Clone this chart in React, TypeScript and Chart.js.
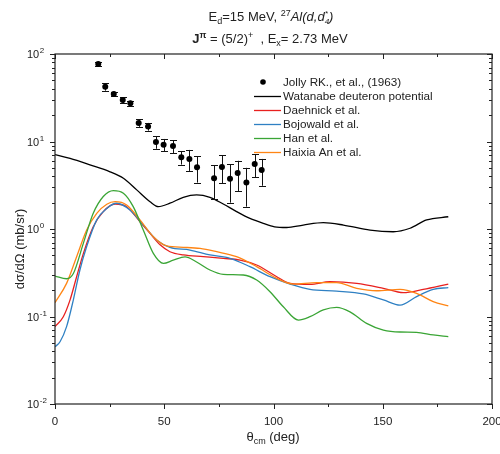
import React, { useEffect, useRef } from "react";
import { Chart, registerables } from "chart.js";
Chart.register(...registerables);

const FONT = "'Liberation Sans', Arial, Helvetica, sans-serif";

// Experimental data (Jolly RK. et al., 1963)
const expAngle = [19.8, 23.0, 26.9, 31.0, 34.5, 38.3, 42.6, 46.2, 49.7, 54.0, 57.8, 61.5, 65.0, 72.8, 76.4, 80.1, 83.6, 87.6, 91.4, 94.6];
const expValue = [76.9, 42.3, 34.9, 29.8, 27.3, 16.3, 14.8, 9.86, 9.19, 8.89, 6.6, 6.31, 5.07, 3.79, 5.12, 3.76, 4.37, 3.4, 5.53, 4.72];
const expError = [4.9, 4.2, 2.2, 2.3, 1.9, 1.6, 1.5, 1.6, 1.5, 1.5, 1.15, 1.7, 1.68, 1.6, 1.8, 1.76, 1.65, 1.6, 1.6, 1.6];

// Watanabe deuteron potential
const watanabeAngle = [0, 6.9, 16, 25.2, 31.3, 37.4, 43.5, 47.3, 52.6, 58.7, 64.8, 70.9, 77, 83.1, 89.2, 95.3, 100.5, 106, 113.6, 122.8, 132, 144.2, 154.8, 162.5, 170.1, 180];
const watanabeValue = [7.1, 6.4, 5.4, 4.5, 3.8, 2.8, 2.05, 1.8, 1.97, 2.3, 2.45, 2.3, 1.93, 1.58, 1.32, 1.16, 1.06, 1.04, 1.11, 1.18, 1.11, 0.97, 0.93, 1.02, 1.27, 1.38];

// Daehnick et al.
const daehnickAngle = [0, 3.8, 6.9, 9.9, 13, 17.5, 22.1, 27.5, 32.8, 38.9, 43.5, 48.1, 52.6, 58.7, 67.9, 77, 84.7, 92.3, 101.5, 107.6, 116.7, 125.9, 138.1, 150.3, 159.4, 168.5, 180];
const daehnickValue = [0.0766, 0.0995, 0.155, 0.285, 0.527, 1.06, 1.58, 1.93, 1.8, 1.21, 0.89, 0.66, 0.55, 0.505, 0.483, 0.462, 0.442, 0.388, 0.285, 0.239, 0.233, 0.25, 0.239, 0.21, 0.187, 0.204, 0.235];

// Bojowald et al.
const bojowaldAngle = [0, 2.3, 5.3, 8.4, 11.4, 14.5, 19.1, 23.7, 28.2, 34.3, 40.4, 46.5, 52.6, 61.8, 70.9, 80.1, 89.2, 98.4, 107.6, 116.7, 128.9, 141.1, 150.3, 157.9, 165.5, 173.1, 180];
const bojowaldValue = [0.045, 0.0515, 0.0766, 0.155, 0.34, 0.63, 1.27, 1.72, 1.97, 1.65, 1.11, 0.75, 0.617, 0.575, 0.505, 0.462, 0.371, 0.285, 0.235, 0.204, 0.195, 0.181, 0.155, 0.135, 0.169, 0.204, 0.214];

// Han et al.
const hanAngle = [0, 5.3, 8.4, 13, 17.5, 22.1, 26.7, 31.3, 35.8, 40.4, 45, 49.6, 54.1, 59.5, 64.8, 70.9, 77, 86.2, 92.3, 98.4, 104.5, 111.4, 116.7, 122.8, 128.9, 135, 142.6, 150.3, 157.9, 165.5, 173.1, 180];
const hanValue = [0.29, 0.27, 0.31, 0.69, 1.51, 2.35, 2.74, 2.56, 1.8, 0.975, 0.527, 0.405, 0.44, 0.48, 0.42, 0.34, 0.303, 0.298, 0.261, 0.192, 0.129, 0.091, 0.0995, 0.119, 0.127, 0.113, 0.0836, 0.07, 0.0665, 0.066, 0.0615, 0.059];

// Haixia An et al.
const haixiaAngle = [0, 5.3, 9.9, 14.5, 19.1, 23.7, 27.5, 32.8, 38.9, 45, 51.1, 58.7, 66.4, 74, 83.1, 92.3, 101.5, 109.1, 119.8, 128.9, 138.1, 147.2, 157.9, 165.5, 173.1, 180];
const haixiaValue = [0.144, 0.239, 0.483, 0.975, 1.51, 1.92, 2.05, 1.88, 1.27, 0.817, 0.64, 0.617, 0.6, 0.55, 0.483, 0.371, 0.273, 0.235, 0.244, 0.244, 0.21, 0.197, 0.204, 0.184, 0.148, 0.132];

const seriesNames = ["Jolly RK., et al., (1963)", "Watanabe deuteron potential", "Daehnick et al.", "Bojowald et al.", "Han et al.", "Haixia An et al."];
const seriesColors = ["#000000", "#000000", "#e8201f", "#2f80c3", "#3aa535", "#ff8514"];

const xTicks = [0, 50, 100, 150, 200];
const yDecades = [0.01, 0.1, 1, 10, 100];
const yExponents = ["-2", "-1", "0", "1", "2"];

type Seg = { t: string; size: number; bold?: boolean; italic?: boolean; dy?: number; noAdvance?: boolean };

function segFont(s: Seg) {
  return `${s.italic ? "italic " : ""}${s.bold ? "bold " : ""}${s.size}px ${FONT}`;
}

function drawRich(ctx: CanvasRenderingContext2D, segs: Seg[], cx: number, baseline: number) {
  let total = 0;
  segs.forEach((s) => {
    ctx.font = segFont(s);
    if (!s.noAdvance) total += ctx.measureText(s.t).width;
  });
  let x = cx - total / 2;
  ctx.textBaseline = "alphabetic";
  ctx.textAlign = "left";
  segs.forEach((s) => {
    ctx.font = segFont(s);
    ctx.fillText(s.t, x, baseline + (s.dy || 0));
    if (!s.noAdvance) x += ctx.measureText(s.t).width;
  });
}

const decorPlugin = {
  id: "decor",
  beforeDatasetDraw(chart: any, args: any) {
    if (args.index !== 0) return;
    const ctx = chart.ctx;
    const xs = chart.scales.x;
    const ys = chart.scales.y;
    ctx.save();
    ctx.strokeStyle = "#111";
    ctx.lineWidth = 1;
    expAngle.forEach((a, i) => {
      const px = Math.round(xs.getPixelForValue(a)) + 0.5;
      const top = ys.getPixelForValue(expValue[i] + expError[i]);
      const bot = ys.getPixelForValue(Math.max(expValue[i] - expError[i], 0.011));
      ctx.beginPath();
      ctx.moveTo(px, top);
      ctx.lineTo(px, bot);
      ctx.moveTo(px - 3.5, Math.round(top) + 0.5);
      ctx.lineTo(px + 3.5, Math.round(top) + 0.5);
      ctx.moveTo(px - 3.5, Math.round(bot) + 0.5);
      ctx.lineTo(px + 3.5, Math.round(bot) + 0.5);
      ctx.stroke();
    });
    ctx.restore();
  },
  afterDraw(chart: any) {
    const ctx = chart.ctx;
    const a = chart.chartArea;
    const xs = chart.scales.x;
    const ys = chart.scales.y;
    ctx.save();
    ctx.strokeStyle = "#222";
    ctx.lineWidth = 1.2;
    ctx.strokeRect(a.left, a.top, a.right - a.left, a.bottom - a.top);
    ctx.lineWidth = 1;
    ctx.beginPath();
    // x ticks
    for (let v = 0; v <= 200; v += 25) {
      const p = Math.round(xs.getPixelForValue(v)) + 0.5;
      const major = v % 50 === 0;
      const len = major ? 5 : 3;
      ctx.moveTo(p, a.bottom);
      ctx.lineTo(p, a.bottom + len);
      ctx.moveTo(p, a.top);
      ctx.lineTo(p, a.top + len);
    }
    // y ticks
    yDecades.forEach((d, i) => {
      const p = Math.round(ys.getPixelForValue(d)) + 0.5;
      ctx.moveTo(a.left - 5, p);
      ctx.lineTo(a.left, p);
      ctx.moveTo(a.right - 5, p);
      ctx.lineTo(a.right, p);
      if (i < yDecades.length - 1) {
        for (let m = 2; m <= 9; m++) {
          const q = Math.round(ys.getPixelForValue(d * m)) + 0.5;
          ctx.moveTo(a.left - 3, q);
          ctx.lineTo(a.left, q);
          ctx.moveTo(a.right - 3, q);
          ctx.lineTo(a.right, q);
        }
      }
    });
    ctx.stroke();

    // y tick labels
    ctx.fillStyle = "#222";
    yDecades.forEach((d, i) => {
      const p = ys.getPixelForValue(d);
      ctx.textAlign = "left";
      ctx.textBaseline = "alphabetic";
      ctx.font = `11px ${FONT}`;
      ctx.fillText("10", 27, p + 4);
      const w = ctx.measureText("10").width;
      ctx.font = `8px ${FONT}`;
      ctx.fillText(yExponents[i], 27 + w + 0.5, p - 1);
    });

    // axis titles
    ctx.fillStyle = "#222";
    drawRich(ctx, [
      { t: "\u03b8", size: 13 },
      { t: "cm", size: 9, dy: 3 },
      { t: " (deg)", size: 13 },
    ], 273, 441);
    ctx.save();
    ctx.translate(20, 249);
    ctx.rotate(-Math.PI / 2);
    drawRich(ctx, [{ t: "d\u03c3/d\u03a9 (mb/sr)", size: 13 }], 0, 4);
    ctx.restore();

    // title
    drawRich(ctx, [
      { t: "E", size: 13 },
      { t: "d", size: 9, dy: 3 },
      { t: "=15 MeV, ", size: 13 },
      { t: "27", size: 9, dy: -5 },
      { t: "Al(d,d", size: 13, italic: true },
      { t: "*", size: 8, dy: -5, italic: true, noAdvance: true },
      { t: "4", size: 8, dy: 3, italic: true },
      { t: ")", size: 13, italic: true },
    ], 271, 21);
    drawRich(ctx, [
      { t: "J", size: 13, bold: true },
      { t: "\u03c0", size: 9, bold: true, dy: -5 },
      { t: " = (5/2)", size: 13 },
      { t: "+", size: 9, dy: -5 },
      { t: "  , E", size: 13 },
      { t: "x", size: 9, dy: 3 },
      { t: "= 2.73 MeV", size: 13 },
    ], 270, 43);

    // legend
    const rows = [82, 96, 110, 124, 138, 152];
    seriesNames.forEach((name, i) => {
      const y = rows[i];
      if (i === 0) {
        ctx.fillStyle = "#000";
        ctx.beginPath();
        ctx.arc(263, y, 2.8, 0, Math.PI * 2);
        ctx.fill();
      } else {
        ctx.strokeStyle = seriesColors[i];
        ctx.lineWidth = 1.3;
        ctx.beginPath();
        ctx.moveTo(254, y + 0.5);
        ctx.lineTo(281, y + 0.5);
        ctx.stroke();
      }
      ctx.fillStyle = "#222";
      ctx.textAlign = "left";
      ctx.textBaseline = "middle";
      ctx.font = `11.7px ${FONT}`;
      ctx.fillText(name, 283, y + 1);
    });
    ctx.restore();
  },
};

function toXY(xs: number[], ys: number[]) {
  return xs.map((x, i) => ({ x, y: ys[i] }));
}

export default function App() {
  const ref = useRef<HTMLCanvasElement | null>(null);
  useEffect(() => {
    if (!ref.current) return;
    const lineDs = (idx: number, xs: number[], ys: number[]) => ({
      label: seriesNames[idx],
      data: toXY(xs, ys),
      showLine: true,
      borderColor: seriesColors[idx],
      backgroundColor: seriesColors[idx],
      borderWidth: 1.3,
      pointRadius: 0,
      cubicInterpolationMode: "monotone" as const,
      fill: false,
    });
    const chart = new Chart(ref.current, {
      type: "scatter",
      data: {
        datasets: [
          {
            label: seriesNames[0],
            data: toXY(expAngle, expValue),
            showLine: false,
            pointRadius: 3,
            pointBackgroundColor: "#000",
            pointBorderColor: "#000",
            pointBorderWidth: 0,
          },
          lineDs(1, watanabeAngle, watanabeValue),
          lineDs(4, hanAngle, hanValue),
          lineDs(5, haixiaAngle, haixiaValue),
          lineDs(3, bojowaldAngle, bojowaldValue),
          lineDs(2, daehnickAngle, daehnickValue),
        ] as any,
      },
      options: {
        animation: false,
        responsive: false,
        devicePixelRatio: 1,
        events: [],
        layout: { padding: { top: 54, right: 8, left: 0, bottom: 0 } },
        plugins: { legend: { display: false }, tooltip: { enabled: false }, title: { display: false } },
        scales: {
          x: {
            type: "linear",
            min: 0,
            max: 200,
            grid: { display: false, drawTicks: false },
            border: { display: false },
            ticks: {
              stepSize: 50,
              padding: 11,
              maxRotation: 0,
              color: "#222",
              font: { size: 11.5, family: FONT },
            },
            afterBuildTicks: (s: any) => {
              s.ticks = xTicks.map((v) => ({ value: v }));
            },
            afterFit: (s: any) => {
              s.height = 50;
              s.paddingLeft = 0;
              s.paddingRight = 0;
            },
          },
          y: {
            type: "logarithmic",
            min: 0.01,
            max: 100,
            grid: { display: false, drawTicks: false },
            border: { display: false },
            ticks: { display: false },
            afterBuildTicks: (s: any) => {
              s.ticks = yDecades.map((v) => ({ value: v }));
            },
            afterFit: (s: any) => {
              s.width = 55;
              s.paddingTop = 0;
              s.paddingBottom = 0;
            },
          },
        },
      } as any,
      plugins: [decorPlugin],
    });
    return () => chart.destroy();
  }, []);
  return (
    <div style={{ position: "absolute", left: 0, top: 0, width: 500, height: 454, background: "#fff" }}>
      <canvas ref={ref} width={500} height={454} style={{ display: "block" }} />
    </div>
  );
}
